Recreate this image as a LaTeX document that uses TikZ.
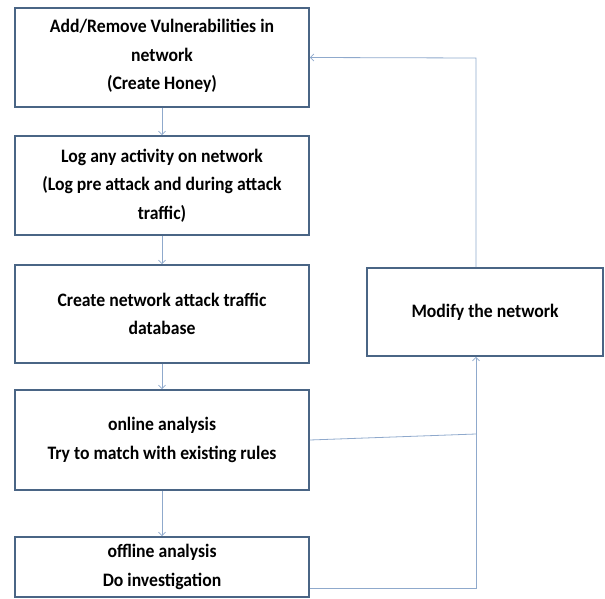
\documentclass[tikz,border=0pt]{standalone}
\usepackage{fontspec}
\setmainfont{Carlito}[FakeStretch=0.93]
\usetikzlibrary{arrows.meta}
\definecolor{boxline}{HTML}{4A6585}
\definecolor{conn}{HTML}{8FA9CC}
\begin{document}
\begin{tikzpicture}[x=1pt,y=-1pt,
  stepbox/.style={draw=boxline, line width=1.6pt, fill=white, align=center,
    minimum width=294pt, inner sep=0pt, font=\fontsize{19}{28.5}\selectfont\bfseries},
  link/.style={draw=conn, line width=0.8pt},
  arr/.style={link, -{Straight Barb[length=3.5pt,width=7pt]}}]
\useasboundingbox (0,0) rectangle (605,599);
\node[stepbox, minimum height=99pt] (b1) at (162,57.5) {Add/Remove Vulnerabilities in\\network\\(Create Honey)\rule[-6pt]{0pt}{0pt}};
\node[stepbox, minimum height=99pt] (b2) at (162,185.5) {Log any activity on network\\(Log pre attack and during attack\\traffic)};
\node[stepbox, minimum height=98pt] (b3) at (162,314) {Create network attack traffic\\database};
\node[stepbox, minimum height=100pt] (b4) at (162,440) {online analysis\\Try to match with existing rules};
\node[stepbox, minimum height=60pt] (b5) at (162,567) {offline analysis\\Do investigation};
\node[stepbox, minimum width=236pt, minimum height=88pt] (mod) at (485,312) {Modify the network};
\coordinate (j1) at (476,434);
\coordinate (j2) at (476,588);
\coordinate (j3) at (476,58);
\draw[arr] (b1.south) -- (b2.north);
\draw[arr] (b2.south) -- (b3.north);
\draw[arr] (b3.south) -- (b4.north);
\draw[arr] (b4.south) -- (b5.north);
\draw[link] (b4.east) -- (j1);
\draw[arr] (j2 -| b5.east) -- (j2) -- (j2 |- mod.south);
\draw[arr] (j3 |- mod.north) -- (j3) -- (b1.east);
\end{tikzpicture}
\end{document}
